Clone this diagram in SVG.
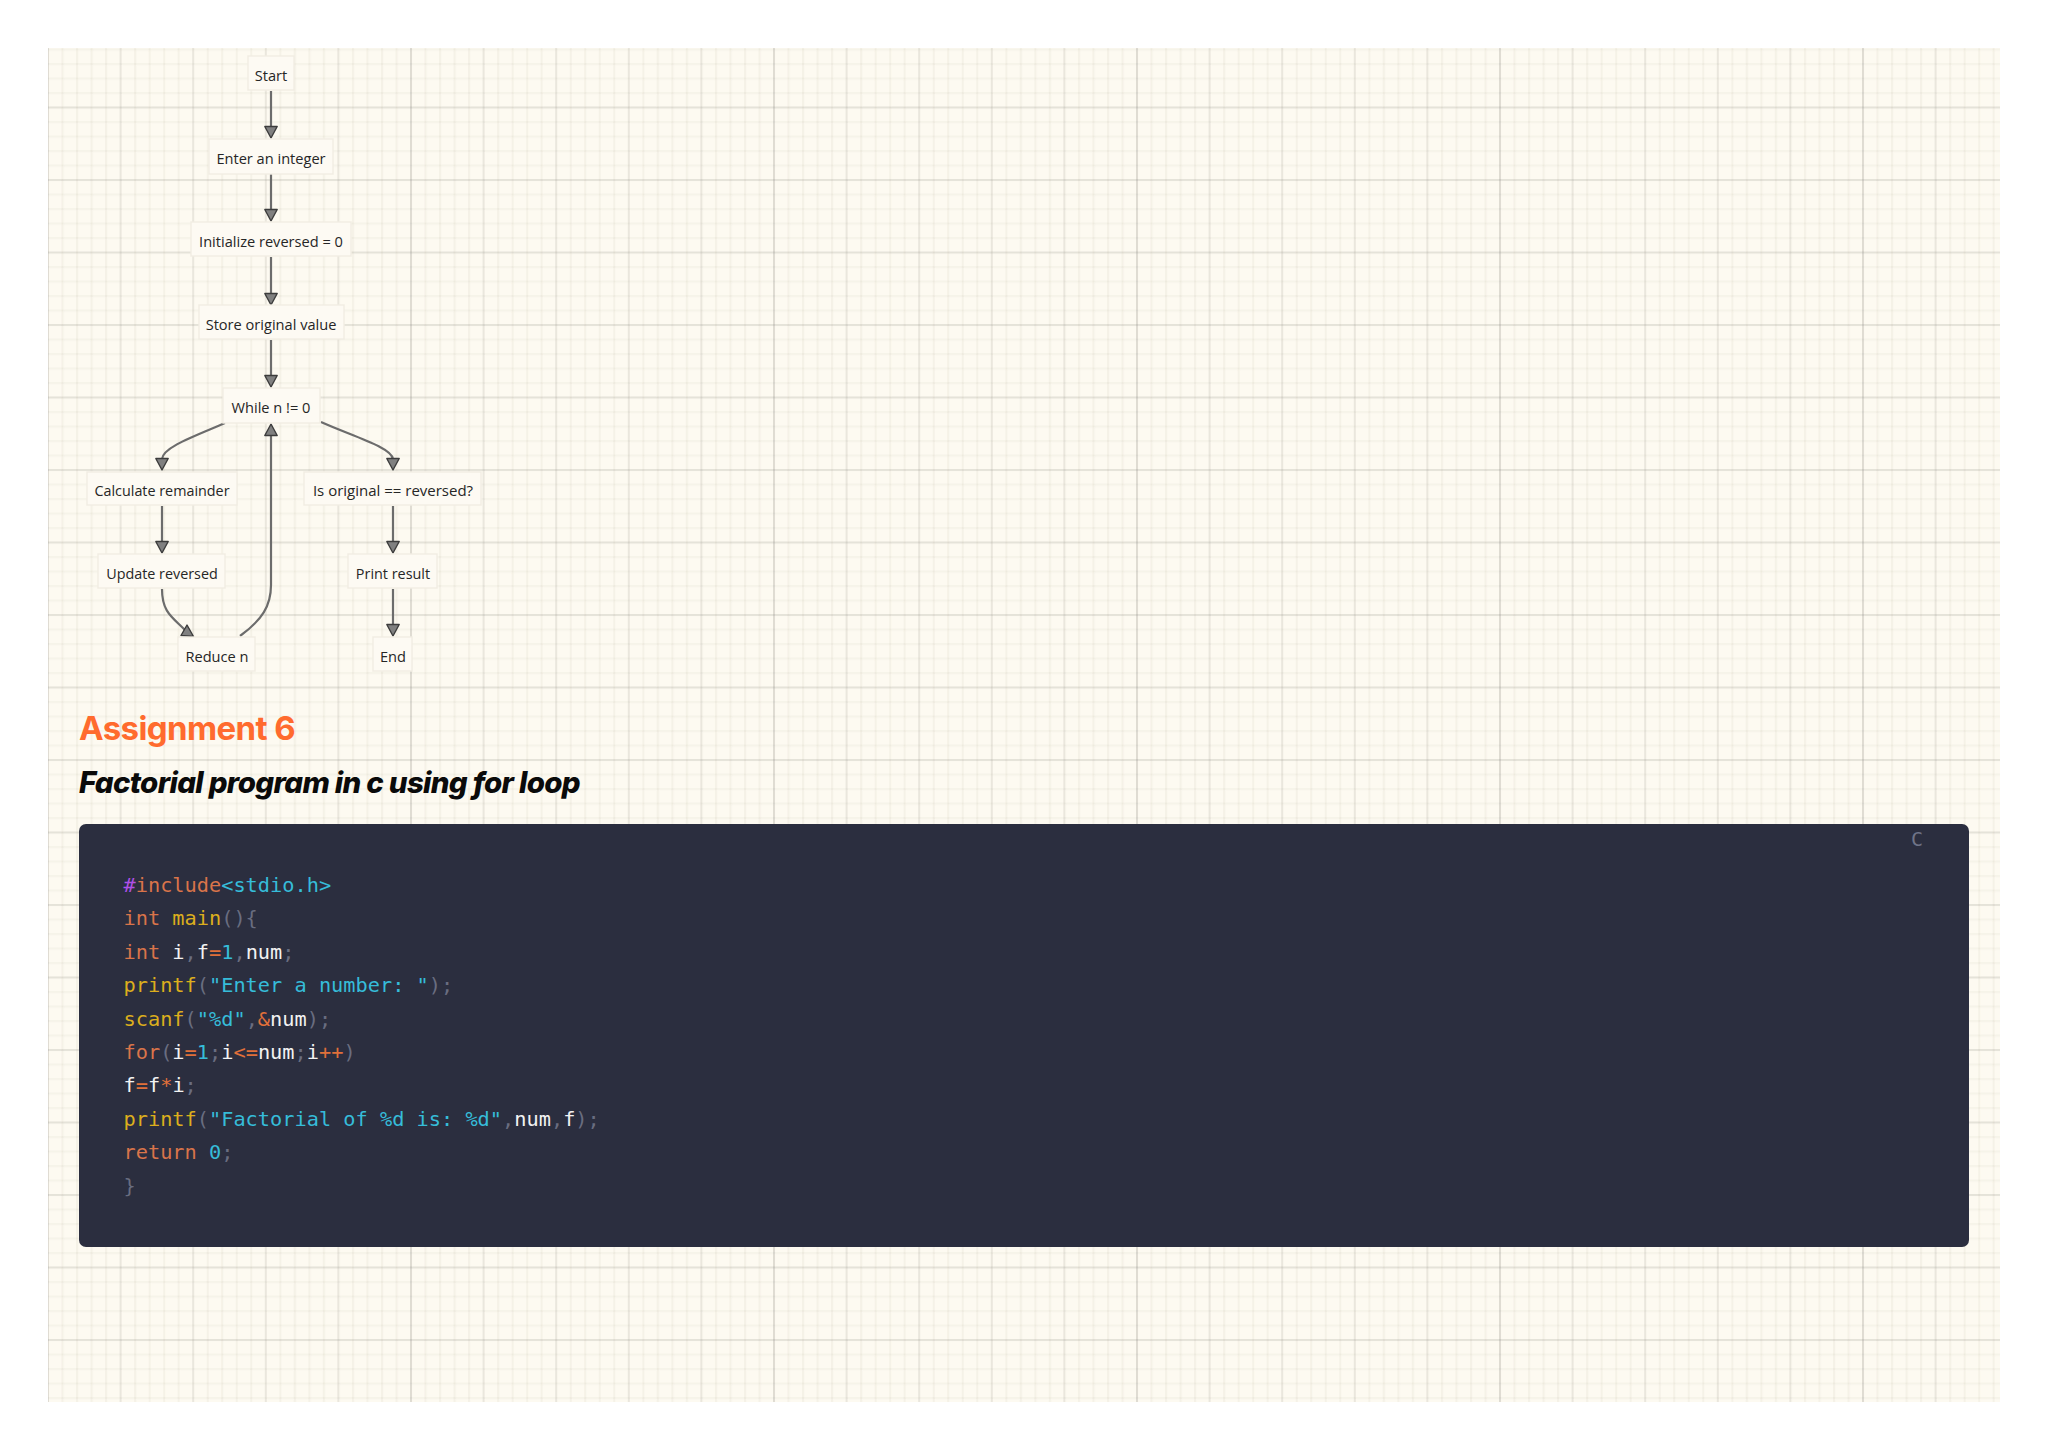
<svg xmlns="http://www.w3.org/2000/svg" width="2048" height="1448" viewBox="0 0 2048 1448">
<style>
.n rect{fill:#fdfaf3;stroke:#f1ede3;stroke-width:1.4}
.n text{font-family:"Open Sans","Noto Sans",sans-serif;font-size:14.6px;fill:#262626;text-anchor:middle}
.e{fill:none;stroke:#6c6c6c;stroke-width:2.2}
.h{fill:#808080;stroke:#3c3c3c;stroke-width:1.4;stroke-linejoin:round}
.c{font-family:"DejaVu Sans Mono",monospace;font-size:20.3px;fill:#f2f2f2;white-space:pre}
.k{fill:#d9744a}.y{fill:#dcae1d}.s{fill:#36bcd9}.p{fill:#696d80}.o{fill:#e0703a}.u{fill:#ae50e6}
</style>
<defs>
<filter id="soft" x="0" y="0" width="1" height="1"><feGaussianBlur stdDeviation="0.7"/></filter>
<pattern id="gv1" patternUnits="userSpaceOnUse" x="47" y="0" width="14.52" height="10"><rect width="2" height="10" fill="#8a8060" fill-opacity=".07"/></pattern>
<pattern id="gh1" patternUnits="userSpaceOnUse" x="0" y="34" width="10" height="14.5"><rect width="10" height="2" fill="#8a8060" fill-opacity=".06"/></pattern>
<pattern id="gv2" patternUnits="userSpaceOnUse" x="47" y="0" width="72.6" height="10"><rect width="2" height="10" fill="#777" fill-opacity=".09"/></pattern>
<pattern id="gh2" patternUnits="userSpaceOnUse" x="0" y="34" width="10" height="72.5"><rect width="10" height="2" fill="#777" fill-opacity=".13"/></pattern>
<pattern id="gv3" patternUnits="userSpaceOnUse" x="47" y="0" width="363" height="10"><rect width="2" height="10" fill="#777" fill-opacity=".10"/></pattern>
</defs>
<rect width="2048" height="1448" fill="#fff"/>
<g id="paper">
<rect x="48" y="48" width="1952" height="1354" fill="#fdfaf1"/>
<g filter="url(#soft)">
<rect x="48" y="48" width="1952" height="1354" fill="url(#gv1)"/>
<rect x="48" y="48" width="1952" height="1354" fill="url(#gh1)"/>
<rect x="48" y="48" width="1952" height="1354" fill="url(#gv2)"/>
<rect x="48" y="48" width="1952" height="1354" fill="url(#gh2)"/>
<rect x="48" y="48" width="1952" height="1354" fill="url(#gv3)"/>
</g>
</g>
<g id="connectors">
<path class="e" d="M271 91V127M271 174V210M271 257V294M271 340V376M162 506V542M393 506V542M393 589V625"/>
<path class="e" d="M225 423C195 436 163 447 162 459"/>
<path class="e" d="M321 422C352 436 391 447 393 459"/>
<path class="e" d="M162 589C162 612 172 617 185 630"/>
<path class="e" d="M240 636C262 620 271 606 271 585V434"/>
<polygon class="h" points="264.8,126.5 277.2,126.5 271,138"/>
<polygon class="h" points="264.8,209.5 277.2,209.5 271,221"/>
<polygon class="h" points="264.8,293.5 277.2,293.5 271,305"/>
<polygon class="h" points="264.8,375.5 277.2,375.5 271,387"/>
<polygon class="h" points="155.8,458.5 168.2,458.5 162,470"/>
<polygon class="h" points="386.8,458.5 399.2,458.5 393,470"/>
<polygon class="h" points="155.8,541.5 168.2,541.5 162,553"/>
<polygon class="h" points="386.8,541.5 399.2,541.5 393,553"/>
<polygon class="h" points="386.8,624.5 399.2,624.5 393,636"/>
<polygon class="h" points="181,635.5 187,625 193.5,636.5"/>
<polygon class="h" points="264.8,435.5 277.2,435.5 271,424"/>
</g>
<g id="start" class="n"><rect x="248" y="56" width="46" height="34"/><text x="271" y="81">Start</text></g>
<g id="enter" class="n"><rect x="209" y="139" width="124" height="35"/><text x="271" y="164">Enter an integer</text></g>
<g id="init" class="n"><rect x="191" y="222" width="160" height="34"/><text x="271" y="247">Initialize reversed = 0</text></g>
<g id="store" class="n"><rect x="199" y="305" width="145" height="34"/><text x="271" y="330">Store original value</text></g>
<g id="while" class="n"><rect x="223" y="388" width="97" height="35"/><text x="271" y="413">While n != 0</text></g>
<g id="calc" class="n"><rect x="87" y="472" width="150" height="33"/><text x="162" y="496" font-size="14.35" style="font-size:14.35px">Calculate remainder</text></g>
<g id="check" class="n"><rect x="304" y="472" width="177" height="33"/><text x="393" y="496" style="font-size:15px">Is original == reversed?</text></g>
<g id="update" class="n"><rect x="98" y="554" width="127" height="34"/><text x="162" y="579" style="font-size:14.35px">Update reversed</text></g>
<g id="print" class="n"><rect x="348" y="554" width="89" height="34"/><text x="393" y="579" style="font-size:14.4px">Print result</text></g>
<g id="reduce" class="n"><rect x="178" y="637" width="77" height="34"/><text x="217" y="662">Reduce n</text></g>
<g id="end" class="n"><rect x="373" y="637" width="39" height="34"/><text x="393" y="662">End</text></g>
<text x="79" y="740" font-family="Inter,sans-serif" font-weight="700" font-size="33" fill="#ff6b2e" letter-spacing="-.6">Assignment 6</text>
<text x="79" y="793" font-family="Inter,sans-serif" font-weight="800" font-style="italic" font-size="29.5" fill="#0a0a0a" letter-spacing="-.7">Factorial program in c using for loop</text>
<g id="code">
<rect x="79" y="824" width="1890" height="423" rx="7" fill="#2b2e3f"/>
<text x="1917" y="846" font-family="DejaVu Sans Mono,monospace" font-size="20" fill="#6f7488" text-anchor="middle">C</text>
<text class="c" x="123.5" y="892"><tspan class="u">#</tspan><tspan class="k">include</tspan><tspan class="s">&lt;stdio.h&gt;</tspan></text>
<text class="c" x="123.5" y="925.4"><tspan class="k">int</tspan> <tspan class="y">main</tspan><tspan class="p">(){</tspan></text>
<text class="c" x="123.5" y="958.8"><tspan class="k">int</tspan> i<tspan class="p">,</tspan>f<tspan class="o">=</tspan><tspan class="s">1</tspan><tspan class="p">,</tspan>num<tspan class="p">;</tspan></text>
<text class="c" x="123.5" y="992.2"><tspan class="y">printf</tspan><tspan class="p">(</tspan><tspan class="s">"Enter a number: "</tspan><tspan class="p">);</tspan></text>
<text class="c" x="123.5" y="1025.6"><tspan class="y">scanf</tspan><tspan class="p">(</tspan><tspan class="s">"%d"</tspan><tspan class="p">,</tspan><tspan class="o">&amp;</tspan>num<tspan class="p">);</tspan></text>
<text class="c" x="123.5" y="1059"><tspan class="k">for</tspan><tspan class="p">(</tspan>i<tspan class="o">=</tspan><tspan class="s">1</tspan><tspan class="p">;</tspan>i<tspan class="o">&lt;=</tspan>num<tspan class="p">;</tspan>i<tspan class="o">++</tspan><tspan class="p">)</tspan></text>
<text class="c" x="123.5" y="1092.4">f<tspan class="o">=</tspan>f<tspan class="o">*</tspan>i<tspan class="p">;</tspan></text>
<text class="c" x="123.5" y="1125.8"><tspan class="y">printf</tspan><tspan class="p">(</tspan><tspan class="s">"Factorial of %d is: %d"</tspan><tspan class="p">,</tspan>num<tspan class="p">,</tspan>f<tspan class="p">);</tspan></text>
<text class="c" x="123.5" y="1159.2"><tspan class="k">return</tspan> <tspan class="s">0</tspan><tspan class="p">;</tspan></text>
<text class="c p" x="123.5" y="1192.6">}</text>
</g>
</svg>
